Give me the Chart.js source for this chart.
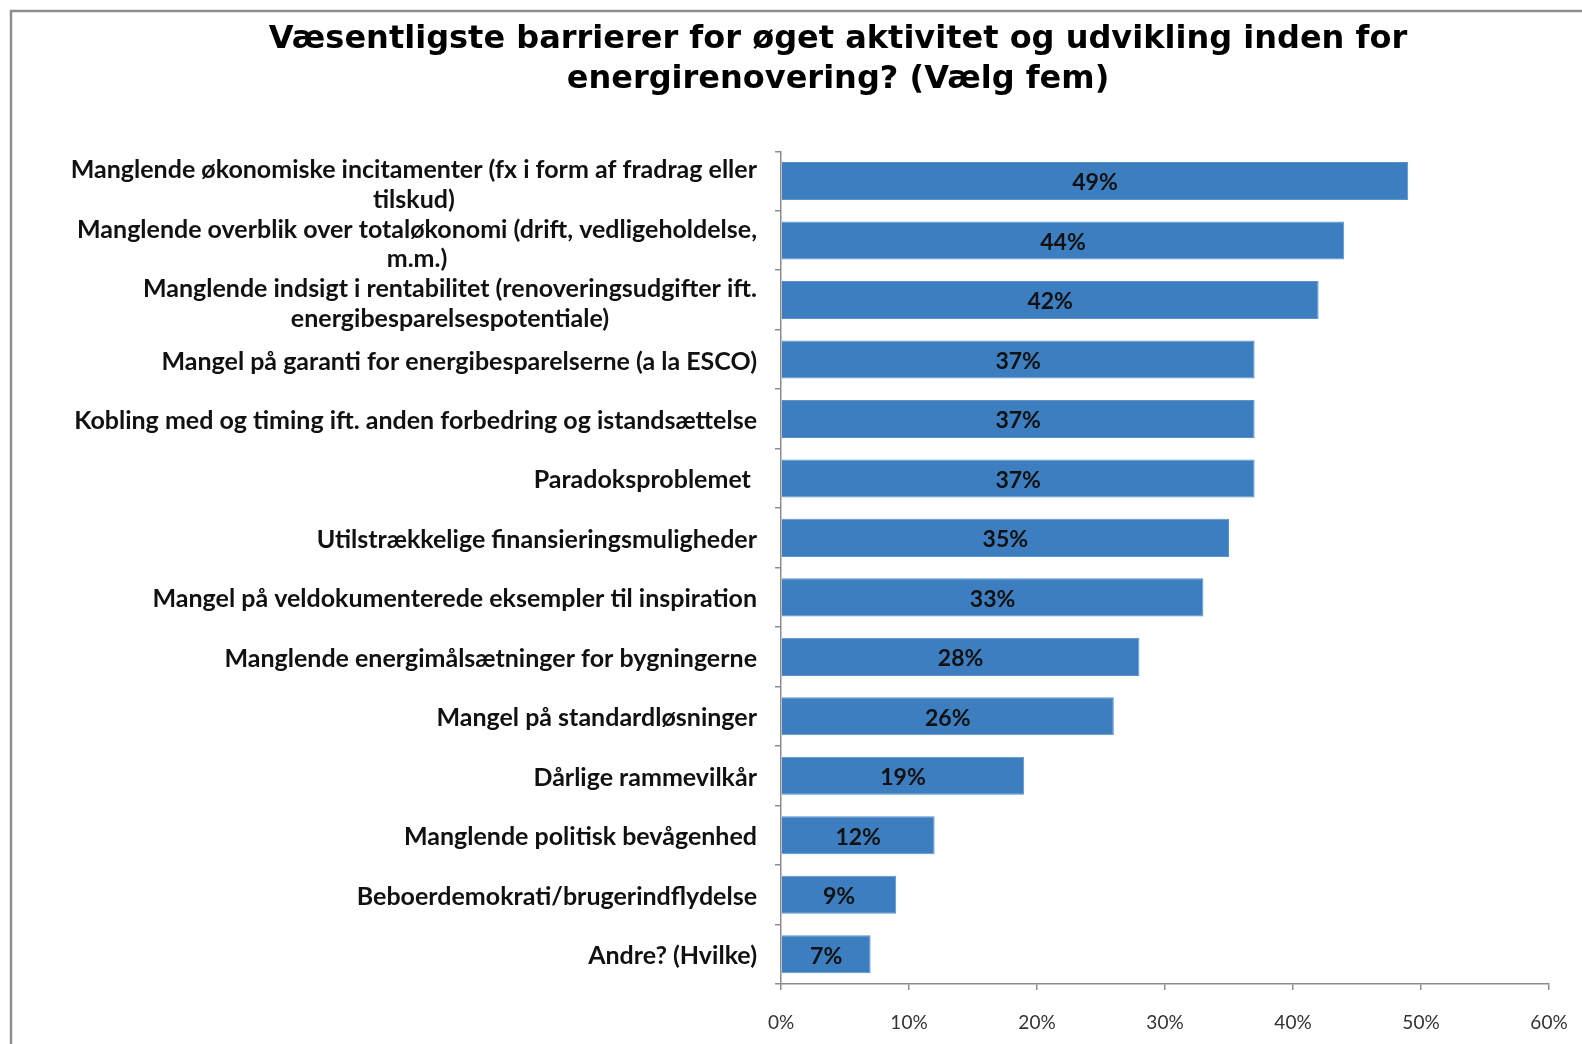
<!DOCTYPE html>
<html>
<head>
<meta charset="utf-8">
<script src="https://cdn.jsdelivr.net/npm/chart.js@4.4.0/dist/chart.umd.min.js"></script>
<style>
    html, body { margin: 0; padding: 0; background: #fff; overflow: hidden; }
    #wrap { position: relative; width: 1582px; height: 1044px; }
</style>
</head>
<body>
<div id="wrap"><canvas id="barrierChart" width="1582" height="1044"></canvas></div>
<script>
// --- Data ---
const titleLines = [
    "Væsentligste barrierer for øget aktivitet og udvikling inden for",
    "energirenovering? (Vælg fem)"
];
const categories = [
    ["Manglende økonomiske incitamenter (fx i form af fradrag eller", "tilskud)"],
    ["Manglende overblik over totaløkonomi (drift, vedligeholdelse,", "m.m.)"],
    ["Manglende indsigt i rentabilitet (renoveringsudgifter ift.", "energibesparelsespotentiale)"],
    "Mangel på garanti for energibesparelserne (a la ESCO)",
    "Kobling med og timing ift. anden forbedring og istandsættelse",
    "Paradoksproblemet ",
    "Utilstrækkelige finansieringsmuligheder",
    "Mangel på veldokumenterede eksempler til inspiration",
    "Manglende energimålsætninger for bygningerne",
    "Mangel på standardløsninger",
    "Dårlige rammevilkår",
    "Manglende politisk bevågenhed",
    "Beboerdemokrati/brugerindflydelse",
    "Andre? (Hvilke)"
];
const values = [49, 44, 42, 37, 37, 37, 35, 33, 28, 26, 19, 12, 9, 7];
const xTicks = [0, 10, 20, 30, 40, 50, 60];

const FONT = "Lato, 'Open Sans', sans-serif";
const TITLE_FONT = "'DejaVu Sans', sans-serif";
const AXIS_GRAY = '#8c8c8c';
const PAD_LEFT = 127;
const PAD_RIGHT = 33;
const AXIS_X = 781;

// --- Chart frame (gray border on left and top) ---
const framePlugin = {
    id: 'frame',
    beforeDraw(chart) {
        const ctx = chart.ctx;
        ctx.save();
        ctx.strokeStyle = '#8e8e8e';
        ctx.lineWidth = 2.5;
        ctx.beginPath();
        ctx.moveTo(11, 1044);
        ctx.lineTo(11, 11);
        ctx.lineTo(1582, 11);
        ctx.stroke();
        ctx.restore();
    }
};

// --- Category labels (right aligned, wrapped lines centred) ---
const yLabelPlugin = {
    id: 'yLabels',
    afterDraw(chart) {
        const ctx = chart.ctx;
        const yScale = chart.scales.y;
        const right = 757;
        const lineH = 29.5;
        ctx.save();
        ctx.font = "bold 25px " + FONT;
        ctx.fillStyle = '#111';
        ctx.textBaseline = 'middle';
        categories.forEach((lab, i) => {
            const y = yScale.getPixelForTick(i);
            const lines = Array.isArray(lab) ? lab : [lab];
            if (lines.length === 1) {
                ctx.textAlign = 'right';
                ctx.fillText(lines[0], right, y + 2);
            } else {
                const w = Math.max(...lines.map(l => ctx.measureText(l).width));
                const cx = right - w / 2;
                ctx.textAlign = 'center';
                const top = y - (lines.length - 1) * lineH / 2 + 4;
                lines.forEach((l, k) => ctx.fillText(l, cx, top + k * lineH));
            }
        });
        ctx.restore();
    }
};

// --- Value labels inside bars ---
const barLabelPlugin = {
    id: 'barLabels',
    afterDatasetsDraw(chart) {
        const ctx = chart.ctx;
        const meta = chart.getDatasetMeta(0);
        ctx.save();
        ctx.font = "bold 23px " + FONT;
        ctx.fillStyle = '#111';
        ctx.textAlign = 'center';
        ctx.textBaseline = 'middle';
        meta.data.forEach((bar, i) => {
            ctx.fillText(values[i] + '%', (bar.x + bar.base) / 2, bar.y + 2);
        });
        ctx.restore();
    }
};

new Chart(document.getElementById('barrierChart').getContext('2d'), {
    type: 'bar',
    data: {
        labels: categories,
        datasets: [{
            data: values,
            backgroundColor: '#3d7ec1',
            borderColor: '#5a92cc',
            borderWidth: 1,
            categoryPercentage: 1,
            barPercentage: 0.64
        }]
    },
    options: {
        indexAxis: 'y',
        responsive: false,
        animation: false,
        layout: { padding: { left: PAD_LEFT, right: PAD_RIGHT, top: 0, bottom: 0 } },
        plugins: {
            legend: { display: false },
            tooltip: { enabled: false },
            title: {
                display: true,
                text: titleLines,
                color: '#000',
                font: { family: TITLE_FONT, size: 32, weight: 'bold', lineHeight: 1.27 },
                padding: { top: 19, bottom: 51 }
            }
        },
        scales: {
            x: {
                min: 0,
                max: 60,
                afterBuildTicks: scale => { scale.ticks = xTicks.map(v => ({ value: v })); },
                afterFit: scale => {
                    scale.height = 60;
                    scale.paddingLeft = 0;
                    scale.paddingRight = 16;
                },
                ticks: {
                    callback: v => v + '%',
                    color: '#333',
                    padding: 21,
                    maxRotation: 0,
                    font: { family: FONT, size: 19 }
                },
                grid: { drawOnChartArea: false, drawTicks: true, tickLength: 6, color: AXIS_GRAY, lineWidth: 1.5 },
                border: { display: true, color: AXIS_GRAY, width: 1.5 }
            },
            y: {
                afterFit: scale => { scale.width = AXIS_X - PAD_LEFT; },
                ticks: { display: false },
                grid: { drawOnChartArea: false, drawTicks: true, tickLength: 6, color: AXIS_GRAY, lineWidth: 1.5, offset: true },
                border: { display: true, color: AXIS_GRAY, width: 1.5 }
            }
        }
    },
    plugins: [framePlugin, yLabelPlugin, barLabelPlugin]
});
</script>
</body>
</html>
